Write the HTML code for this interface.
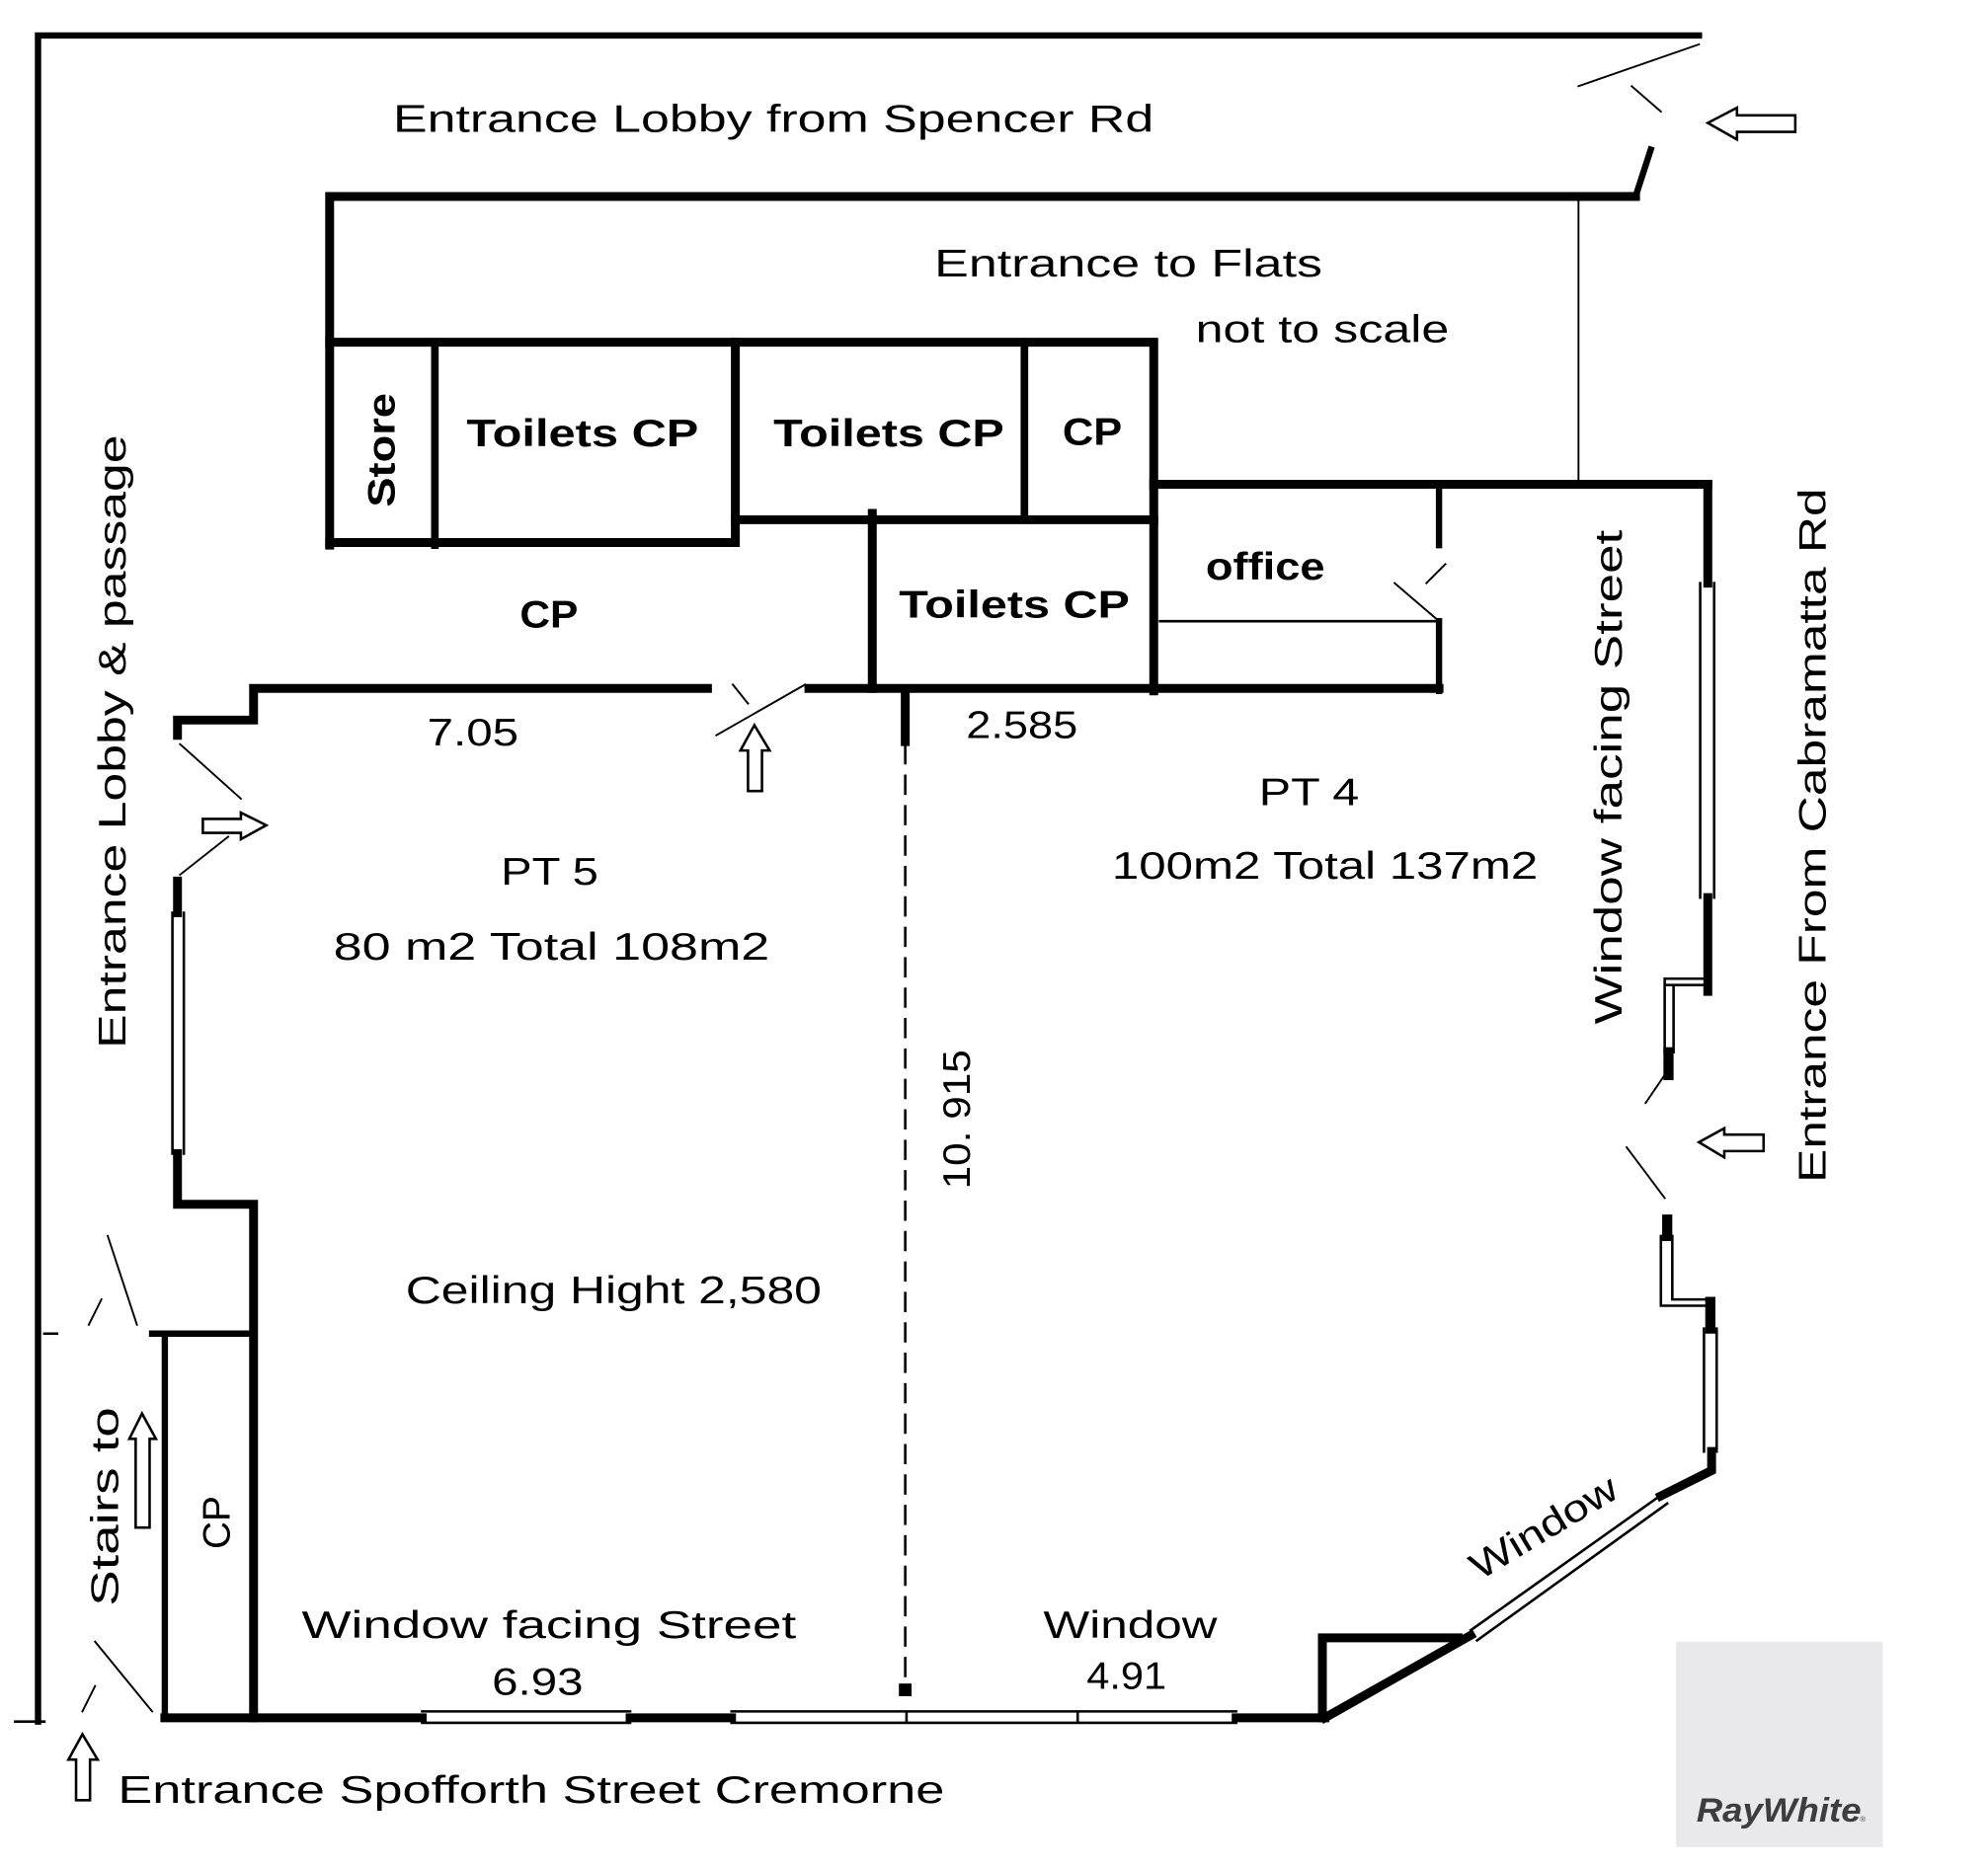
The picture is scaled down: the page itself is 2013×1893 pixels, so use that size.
<!DOCTYPE html>
<html><head><style>html,body{margin:0;padding:0;background:#fff}svg{display:block}</style></head>
<body>
<svg xmlns="http://www.w3.org/2000/svg" width="2013" height="1893" viewBox="0 0 1568 1474.3" preserveAspectRatio="none">
<rect x="0" y="0" width="1568" height="1475" fill="#fff"/>
<g stroke="#000" fill="none" stroke-linecap="square">
<path d="M30,1358 V28 H1340" stroke-width="5"/>
<path d="M1245,68 L1340,35" stroke-width="1.5"/>
<path d="M1287,68 L1310,88" stroke-width="1.5"/>
<path d="M1302,118 L1290,155" stroke-width="5"/>
<path d="M12,1358 H35" stroke-width="2"/>
<path d="M35,1052 H45" stroke-width="2"/>
<path d="M260,430 V155 H1290" stroke-width="7"/>
<path d="M1245,155 V380" stroke-width="1.5"/>
<path d="M260,270 H910 V545" stroke-width="7"/>
<path d="M343,270 V430" stroke-width="6"/>
<path d="M260,428 H580 V270" stroke-width="7"/>
<path d="M580,410 H910" stroke-width="7"/>
<path d="M808,270 V410" stroke-width="6"/>
<path d="M688,405 V543" stroke-width="7"/>
<path d="M910,382 H1347" stroke-width="7"/>
<path d="M1135,385 V430" stroke-width="5"/>
<path d="M1100,460 L1135,490 M1125,460 L1140,445" stroke-width="1.5"/>
<path d="M915,490 H1135" stroke-width="2"/>
<path d="M1135,490 V545" stroke-width="5"/>
<path d="M638,543 H1135" stroke-width="7"/>
<path d="M558,543 H200 V568 H140 V580" stroke-width="7"/>
<path d="M714,545 V585" stroke-width="7"/>
<path d="M714,588 V1330" stroke-width="2" stroke-dasharray="14,10"/>
<path d="M565,580 L635,540 M578,540 L590,555" stroke-width="1.5"/>
<path d="M142,587 L190,630 M142,690 L180,660" stroke-width="1.5"/>
<path d="M140,695 V720 M140,910 V950 H200 V1355" stroke-width="7"/>
<path d="M136,720 V910 M145,720 V910" stroke-width="2"/>
<path d="M120,1052 H200 M130,1052 V1355" stroke-width="5"/>
<path d="M85,975 L108,1045 M70,1045 L80,1025" stroke-width="1.5"/>
<path d="M75,1295 L120,1350 M65,1350 L75,1330" stroke-width="1.5"/>
<path d="M130,1355 H333 M497,1355 H577 M975,1355 H1045" stroke-width="7"/>
<path d="M333,1350 H497 M333,1359 H497 M577,1350 H975 M577,1359 H975 M715,1350 V1359 M850,1350 V1359" stroke-width="2"/>
<rect x="709" y="1328" width="10" height="10" fill="#000" stroke="none"/>
<path d="M1043,1355 V1292 H1150 M1045,1355 L1160,1290" stroke-width="7"/>
<path d="M1160,1286 L1312,1178 M1165,1294 L1315,1186" stroke-width="2"/>
<path d="M1310,1180 L1350,1160 V1145" stroke-width="7"/>
<path d="M1347,382 V460 M1347,708 V782" stroke-width="7"/>
<path d="M1341,460 V708 M1352,460 V708" stroke-width="2"/>
<path d="M1313,772 H1343 M1313,777 H1343 M1313,772 V830 M1320,777 V830" stroke-width="2"/>
<path d="M1316,830 V848" stroke-width="8"/>
<path d="M1298,870 L1315,845 M1283,905 L1313,945" stroke-width="1.5"/>
<path d="M1315,962 V975" stroke-width="8"/>
<path d="M1310,975 V1030 M1319,975 V1025 M1310,1030 H1345 M1319,1025 H1345" stroke-width="2"/>
<path d="M1349,1027 V1048" stroke-width="8"/>
<path d="M1344,1048 V1145 M1354,1048 V1145" stroke-width="2"/>
</g>
<g stroke="#000" stroke-width="2" fill="#fff">
<path d="M1347,97 L1370,85 V91 H1416 V104 H1370 V110 Z"/>
<path d="M1340,901 L1360,890 V895 H1391 V908 H1360 V913 Z"/>
<path d="M210,651 L190,641 V646 H160 V657 H190 V662 Z"/>
<path d="M595,572 L584,592 H590 V624 H601 V592 H607 Z"/>
<path d="M112,1115 L102,1135 H107 V1205 H118 V1135 H123 Z"/>
<path d="M65,1368 L54,1388 H60 V1420 H71 V1388 H77 Z"/>
</g>
<g font-family="Liberation Sans, sans-serif" fill="#000" font-size="30">
<text x="310" y="104" textLength="600" lengthAdjust="spacingAndGlyphs">Entrance Lobby from Spencer Rd</text>
<text x="737" y="218" textLength="306" lengthAdjust="spacingAndGlyphs">Entrance to Flats</text>
<text x="943" y="270" textLength="200" lengthAdjust="spacingAndGlyphs">not to scale</text>
<text x="368" y="352" font-weight="bold" textLength="183" lengthAdjust="spacingAndGlyphs">Toilets CP</text>
<text x="610" y="352" font-weight="bold" textLength="182" lengthAdjust="spacingAndGlyphs">Toilets CP</text>
<text x="838" y="351" font-weight="bold" textLength="47" lengthAdjust="spacingAndGlyphs">CP</text>
<text x="709" y="487" font-weight="bold" textLength="182" lengthAdjust="spacingAndGlyphs">Toilets CP</text>
<text x="951" y="457" font-weight="bold" textLength="94" lengthAdjust="spacingAndGlyphs">office</text>
<text x="410" y="495" font-weight="bold" textLength="46" lengthAdjust="spacingAndGlyphs">CP</text>
<text x="337" y="588" textLength="72" lengthAdjust="spacingAndGlyphs">7.05</text>
<text x="762" y="582" textLength="88" lengthAdjust="spacingAndGlyphs">2.585</text>
<text x="993" y="635" textLength="79" lengthAdjust="spacingAndGlyphs">PT 4</text>
<text x="877" y="693" textLength="336" lengthAdjust="spacingAndGlyphs">100m2 Total 137m2</text>
<text x="395" y="698" textLength="77" lengthAdjust="spacingAndGlyphs">PT 5</text>
<text x="263" y="757" textLength="344" lengthAdjust="spacingAndGlyphs">80 m2 Total 108m2</text>
<text x="320" y="1028" textLength="328" lengthAdjust="spacingAndGlyphs">Ceiling Hight 2,580</text>
<text x="238" y="1292" textLength="390" lengthAdjust="spacingAndGlyphs">Window facing Street</text>
<text x="388" y="1337" textLength="72" lengthAdjust="spacingAndGlyphs">6.93</text>
<text x="823" y="1292" textLength="137" lengthAdjust="spacingAndGlyphs">Window</text>
<text x="857" y="1332" textLength="63" lengthAdjust="spacingAndGlyphs">4.91</text>
<text x="93" y="1422" textLength="652" lengthAdjust="spacingAndGlyphs">Entrance Spofforth Street Cremorne</text>
<text transform="translate(1167,1247) rotate(-31)" textLength="130" lengthAdjust="spacingAndGlyphs">Window</text>
<text transform="translate(311,400) rotate(-90)" font-weight="bold" textLength="90" lengthAdjust="spacingAndGlyphs">Store</text>
<text transform="translate(765,938) rotate(-90)" textLength="110" lengthAdjust="spacingAndGlyphs">10. 915</text>
<text transform="translate(99,827) rotate(-90)" textLength="484" lengthAdjust="spacingAndGlyphs">Entrance Lobby &amp; passage</text>
<text transform="translate(93,1267) rotate(-90)" textLength="157" lengthAdjust="spacingAndGlyphs">Stairs to</text>
<text transform="translate(181,1222) rotate(-90)" textLength="42" lengthAdjust="spacingAndGlyphs">CP</text>
<text transform="translate(1279,808) rotate(-90)" textLength="390" lengthAdjust="spacingAndGlyphs">Window facing Street</text>
<text transform="translate(1440,933) rotate(-90)" textLength="548" lengthAdjust="spacingAndGlyphs">Entrance From Cabramatta Rd</text>
</g>
<rect x="1322" y="1295" width="163" height="162" fill="#e9e9eb"/>
<text x="1338" y="1437" font-family="Liberation Sans, sans-serif" font-weight="bold" font-style="italic" font-size="27" fill="#3d3d3f" textLength="130" lengthAdjust="spacingAndGlyphs">RayWhite</text>
<text x="1467" y="1437" font-family="Liberation Sans, sans-serif" font-size="6" fill="#3d3d3f">®</text>
</svg>
</body></html>
